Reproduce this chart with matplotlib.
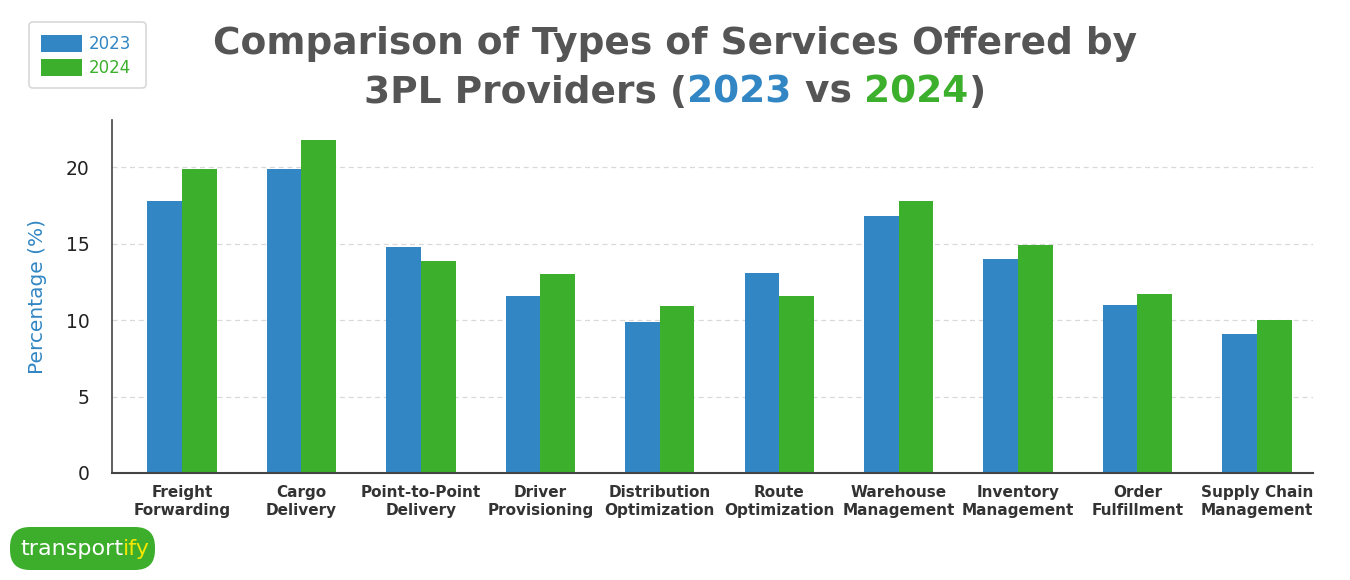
import matplotlib
matplotlib.use('Agg')
import matplotlib.pyplot as plt
import numpy as np
from matplotlib.patches import FancyBboxPatch, Rectangle

categories = ['Freight\nForwarding', 'Cargo\nDelivery', 'Point-to-Point\nDelivery',
              'Driver\nProvisioning', 'Distribution\nOptimization', 'Route\nOptimization',
              'Warehouse\nManagement', 'Inventory\nManagement', 'Order\nFulfillment',
              'Supply Chain\nManagement']
values_2023 = [17.8, 19.9, 14.8, 11.6, 9.9, 13.1, 16.8, 14.0, 11.0, 9.1]
values_2024 = [19.9, 21.8, 13.9, 13.0, 10.9, 11.6, 17.8, 14.9, 11.7, 10.0]
years = ['2023', '2024']
yticks = [0, 5, 10, 15, 20]

blue = '#3186c3'
green = '#3caf2c'
dark = '#555555'

W, H = 1350, 580
fig = plt.figure(figsize=(W / 100, H / 100), dpi=100)
ax = fig.add_axes([0.083, 0.1845, 0.8896, 0.6085])

x = np.arange(len(categories))
w = 0.29
ax.bar(x - w/2, values_2023, w, color=blue, linewidth=0)
ax.bar(x + w/2, values_2024, w, color=green, linewidth=0)

ax.set_xlim(-0.586, len(categories) - 1 + 0.47)
ax.set_ylim(0, 23.1)
ax.set_yticks(yticks)
ax.set_yticklabels([str(t) for t in yticks], fontsize=13.5, color='#222222')
ax.tick_params(axis='y', length=0, pad=16)
ax.set_xticks(x)
ax.set_xticklabels(categories, fontsize=11, fontweight='bold', color='#333333',
                   linespacing=1.25)
ax.tick_params(axis='x', length=0, pad=9)
ax.yaxis.grid(True, linestyle=(0, (4, 3)), color='#d9d9d9', linewidth=0.9)
ax.set_axisbelow(True)
for s in ['top', 'right']:
    ax.spines[s].set_visible(False)
ax.spines['left'].set_color('#444444')
ax.spines['bottom'].set_color('#444444')
ax.spines['left'].set_linewidth(1.2)
ax.spines['bottom'].set_linewidth(1.5)
ax.set_ylabel('Percentage (%)', fontsize=14.5, color=blue, labelpad=14)

# title, second line has coloured years
fig.text(0.5, 0.925, 'Comparison of Types of Services Offered by', ha='center', va='center',
         fontsize=27, fontweight='bold', color=dark)
parts = [('3PL Providers (', dark), ('2023', blue), (' vs ', dark), ('2024', green), (')', dark)]
renderer = fig.canvas.get_renderer()
texts = []
total = 0
for s, c in parts:
    t = fig.text(0, 0.84, s, ha='left', va='center', fontsize=27, fontweight='bold', color=c)
    bb = t.get_window_extent(renderer)
    texts.append((t, bb.width))
    total += bb.width
xpos = (fig.bbox.width - total) / 2
for t, wd in texts:
    t.set_x(xpos / fig.bbox.width)
    xpos += wd

# legend box (pixel coords)
fig.patches.append(FancyBboxPatch((29, H - 88), 117, 66, boxstyle='round,pad=0,rounding_size=4',
                                  transform=None, facecolor='white',
                                  edgecolor='#d8d8d8', linewidth=1.2))
for i, (yr, c) in enumerate(zip(years, [blue, green])):
    ytop = 35 + i * 24
    fig.patches.append(Rectangle((41, H - (ytop + 17)), 41, 17,
                                 transform=None, facecolor=c, edgecolor='none'))
    fig.text(89 / W, 1 - (ytop + 9) / H, yr, fontsize=12, color=c, va='center', ha='left')

# logo
fig.patches.append(FancyBboxPatch((10, H - 570), 145, 43, boxstyle='round,pad=0,rounding_size=20',
                                  transform=None, facecolor='#3cae2c', edgecolor='none'))
t1 = fig.text(20 / W, 1 - 549 / H, 'transport', fontsize=16, color='white',
              va='center', ha='left')
bb = t1.get_window_extent(renderer)
fig.text(bb.x1 / W, 1 - 549 / H, 'ify', fontsize=16, color='#f3e600',
         va='center', ha='left')

fig.savefig('out.png', dpi=100)
